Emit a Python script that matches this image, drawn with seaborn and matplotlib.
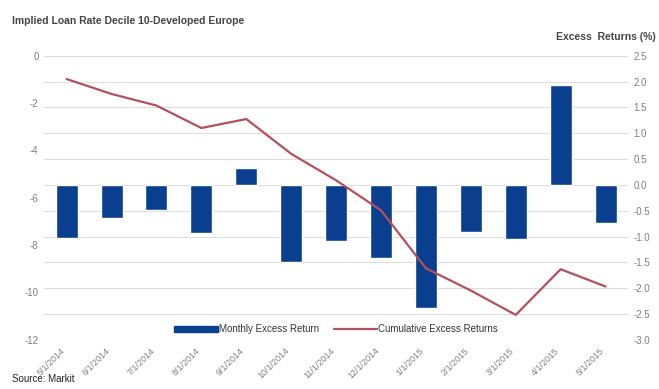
import pandas as pd
import matplotlib.pyplot as plt
import seaborn as sns
from matplotlib.patches import Patch
from matplotlib.lines import Line2D

# data
months = ['5/1/2014', '6/1/2014', '7/1/2014', '8/1/2014', '9/1/2014', '10/1/2014',
          '11/1/2014', '12/1/2014', '1/1/2015', '2/1/2015', '3/1/2015', '4/1/2015', '5/1/2015']
monthly = [-1.02, -0.64, -0.49, -0.93, 0.32, -1.49, -1.08, -1.41, -2.39, -0.92, -1.04, 1.93, -0.73]
cumulative = [-0.98, -1.61, -2.10, -3.05, -2.67, -4.14, -5.26, -6.53, -8.98, -9.92, -10.95, -9.02, -9.75]
left_ticks = [0, -2, -4, -6, -8, -10, -12]
right_ticks = [2.5, 2.0, 1.5, 1.0, 0.5, 0.0, -0.5, -1.0, -1.5, -2.0, -2.5, -3.0]

df = pd.DataFrame({'month': months, 'monthly': monthly, 'cum': cumulative})

sns.set_theme(style='white')
plt.rcParams['font.family'] = ['Liberation Sans', 'DejaVu Sans']
plt.rcParams['axes.unicode_minus'] = False

bar_col = '#0a3f8f'
line_col = '#b5505a'
txt_col = '#808080'

fig, ax = plt.subplots(figsize=(6.59, 3.89), dpi=100)
fig.subplots_adjust(left=0.067, right=0.953, top=0.858, bottom=0.125)

# bars -> right hand scale (Excess Returns %)
sns.barplot(data=df, x='month', y='monthly', color=bar_col, saturation=1,
            width=0.49, ax=ax, zorder=2)
pad = 0.012
ax.set_ylim(-3.0 - pad, 2.5 + pad)
ax.set_yticks(right_ticks)
ax.set_yticklabels([f'{v:.1f}' for v in right_ticks])
ax.grid(axis='y', color='#dddddd', linewidth=0.8, zorder=0)
ax.set_axisbelow(True)

# cumulative line -> left hand scale, drawn on top
ax2 = ax.twinx()
sns.lineplot(data=df, x='month', y='cum', color=line_col, linewidth=1.6,
             sort=False, ax=ax2)
ax2.set_ylim(-12 - pad * 12 / 5.5, 0 + pad * 12 / 5.5)
ax2.set_yticks(left_ticks)
ax2.grid(False)

# swap sides: twin (line) scale on the left, bar scale on the right
ax.yaxis.tick_right()
ax2.yaxis.tick_left()

for a in (ax, ax2):
    a.set_xlabel('')
    a.set_ylabel('')
    for s in a.spines.values():
        s.set_visible(False)
    a.tick_params(axis='both', length=0, labelsize=7, labelcolor=txt_col, pad=4)
ax.set_xlim(-0.5, len(months) - 0.5)

for lab in ax.get_xticklabels():
    lab.set_rotation(45)
    lab.set_ha('right')
    lab.set_fontsize(6.5)

handles = [Patch(color=bar_col, label='Monthly Excess Return'),
           Line2D([], [], color=line_col, linewidth=1.6, label='Cumulative Excess Returns')]
ax2.legend(handles=handles, loc='lower center', bbox_to_anchor=(0.5, -0.01), ncol=2,
           frameon=False, fontsize=7, handlelength=4.5, handleheight=0.6,
           columnspacing=1.5, handletextpad=0.1, labelcolor='#333333')

fig.text(0.018, 0.945, 'Implied Loan Rate Decile 10-Developed Europe', fontsize=7.5,
         fontweight='bold', color='#444444', va='center')
fig.text(0.995, 0.905, 'Excess  Returns (%)', fontsize=7.5, fontweight='bold',
         color='#444444', ha='right', va='center')
fig.text(0.018, 0.012, 'Source: Markit', fontsize=7, color='#222222', va='bottom')

fig.savefig('out.png', dpi=100)
